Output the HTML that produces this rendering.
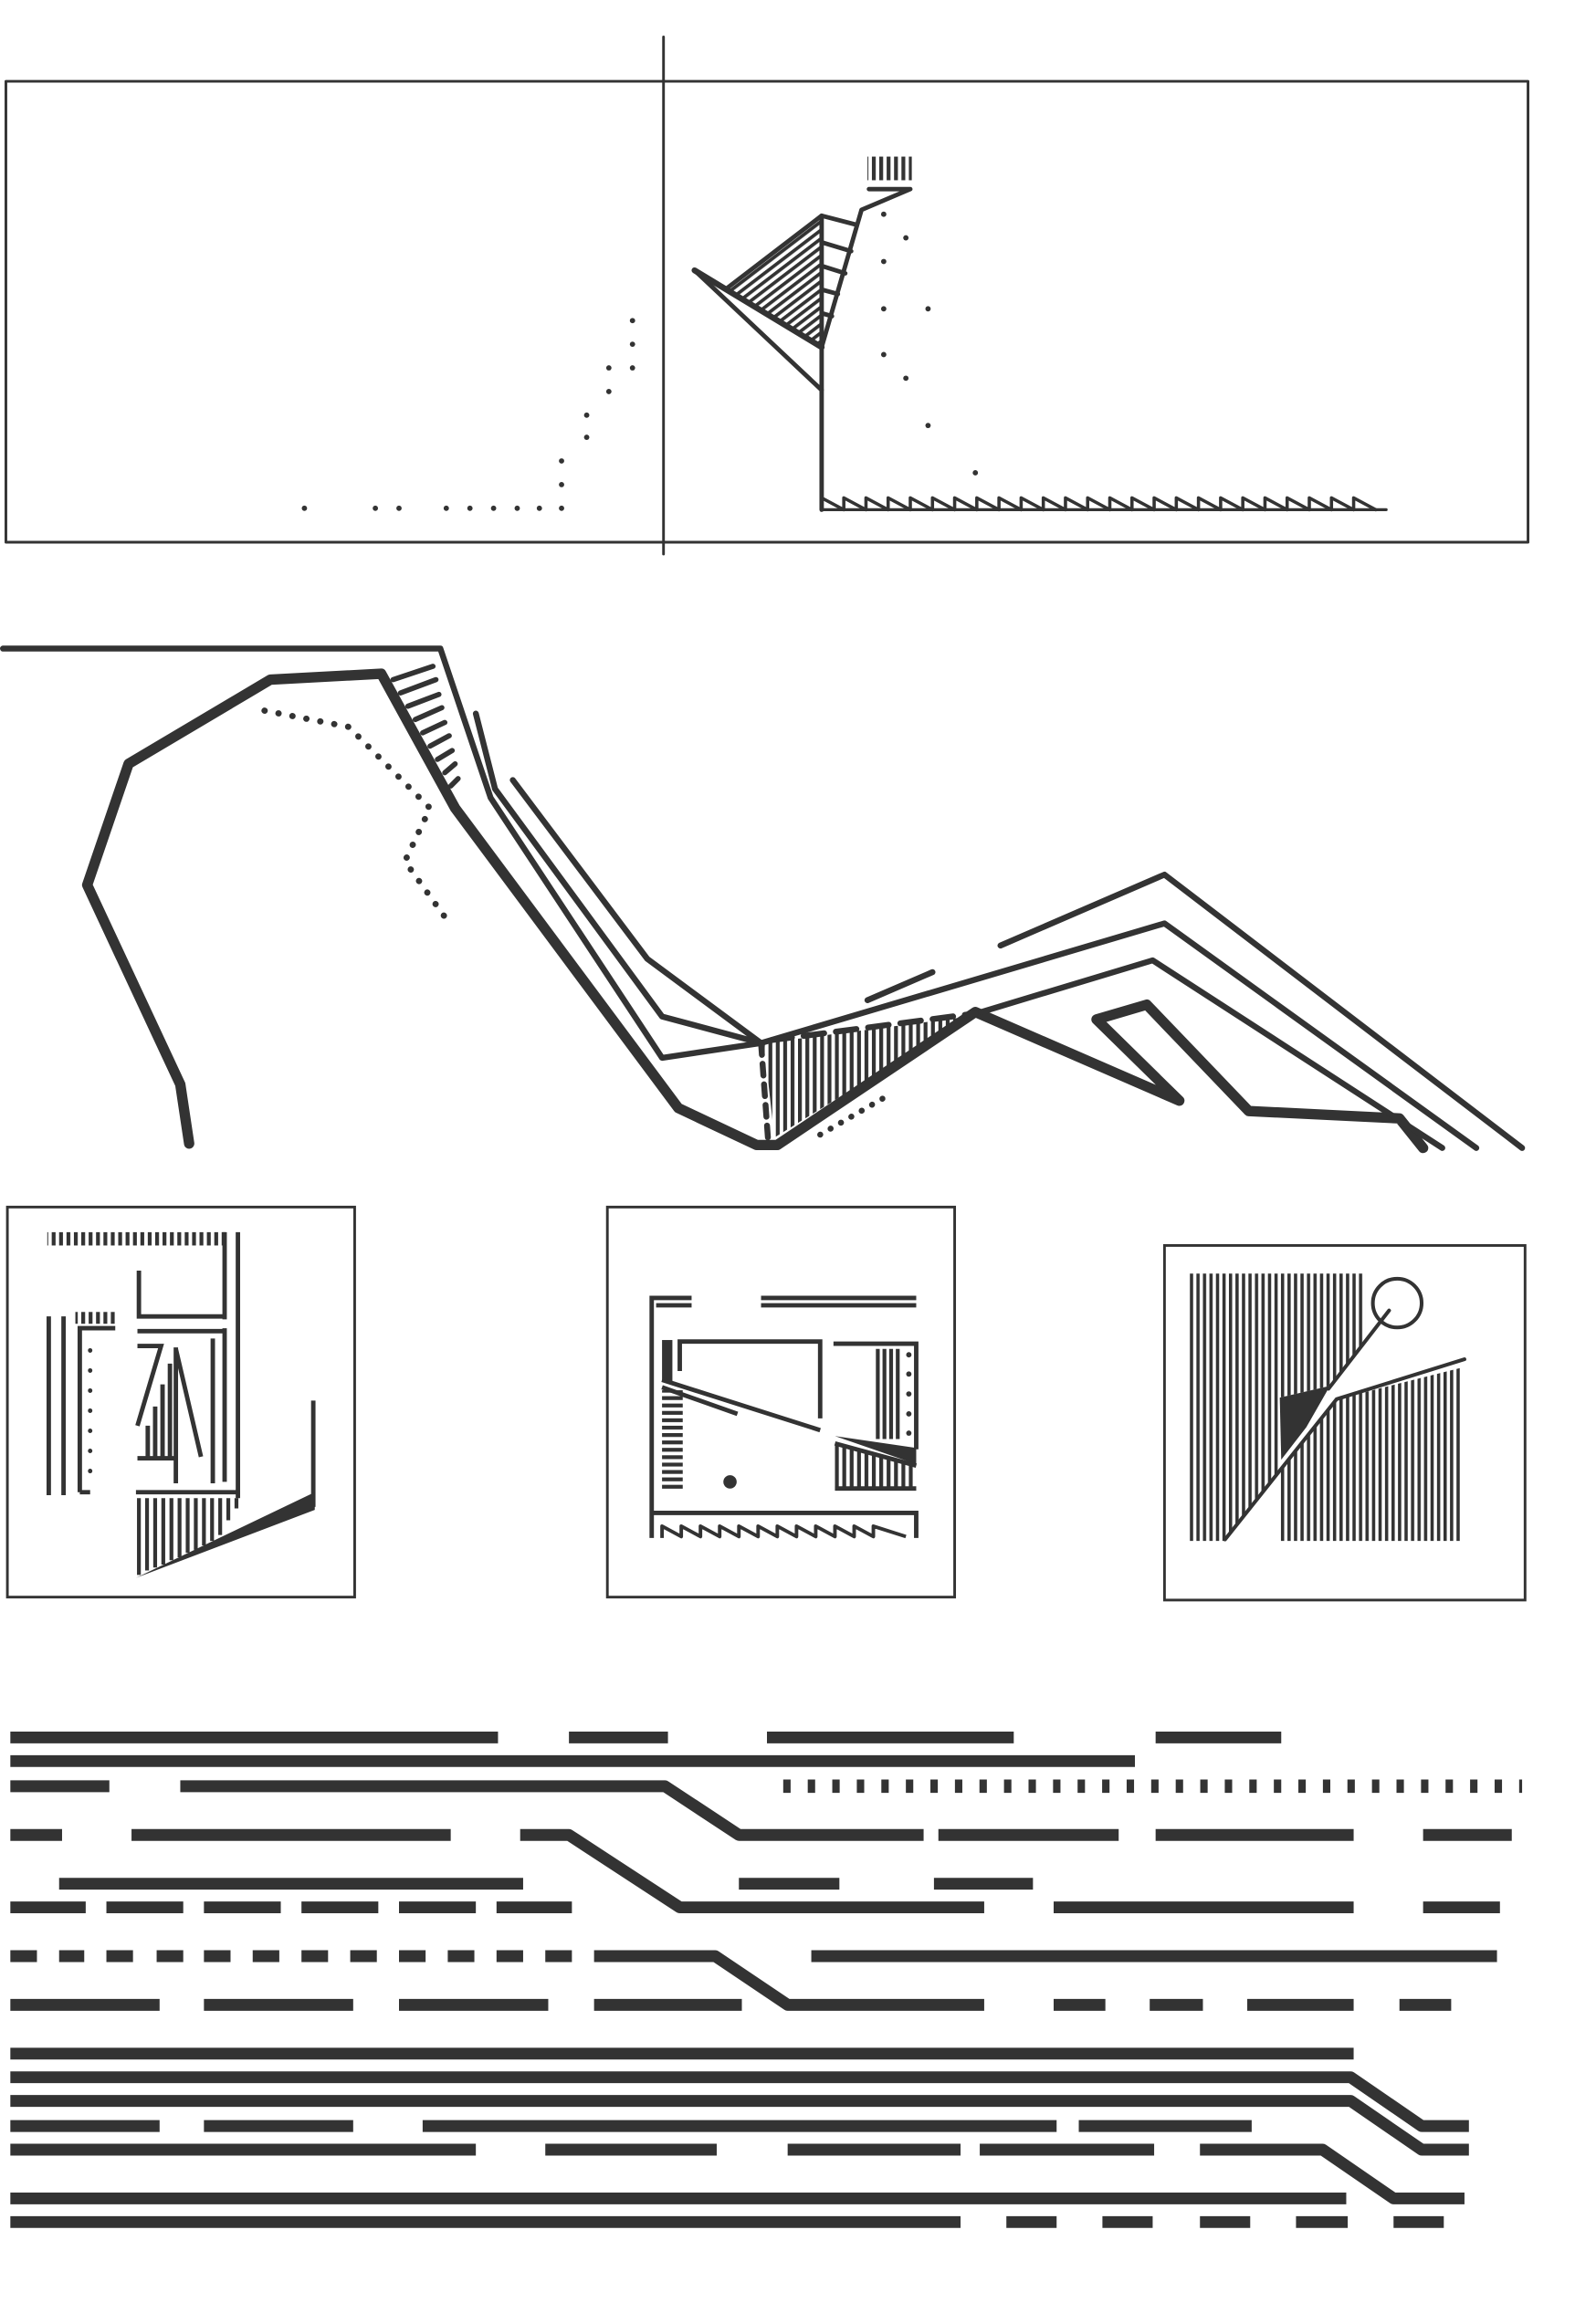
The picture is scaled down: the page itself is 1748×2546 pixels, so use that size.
<!DOCTYPE html>
<html><head><meta charset="utf-8"><style>html,body{margin:0;padding:0;background:#fff}svg{display:block}</style></head>
<body>
<svg width="1748" height="2546" viewBox="0 0 1080 1573" preserveAspectRatio="none" xmlns="http://www.w3.org/2000/svg">
<defs>
<pattern id="vh" width="4.4" height="5" patternUnits="userSpaceOnUse"><rect x="0" y="0" width="2.2" height="5" fill="#333"/></pattern>
<pattern id="vh2" width="5" height="5" patternUnits="userSpaceOnUse"><rect x="0" y="0" width="2.6" height="5" fill="#333"/></pattern>
<pattern id="hh" width="5" height="5" patternUnits="userSpaceOnUse"><rect x="0" y="0" width="5" height="2.6" fill="#333"/></pattern>
<pattern id="dh" width="10" height="4.6" patternUnits="userSpaceOnUse" patternTransform="rotate(-37.4)"><rect x="0" y="0" width="10" height="2.3" fill="#333"/></pattern>
</defs>
<!-- top panel -->
<g fill="none" stroke="#333" stroke-linecap="round" stroke-linejoin="round">
<rect x="4" y="55" width="1030" height="312" stroke-width="1.8"/>
<line x1="449" y1="25" x2="449" y2="375" stroke-width="1.8"/>
</g>
<polygon points="492,195 556,146 556,235" fill="url(#dh)"/>
<g fill="none" stroke="#333" stroke-linecap="round" stroke-linejoin="round" stroke-width="3">
<path d="M556 146 L556 345"/>
<path d="M470 183 L556 264"/>
<path d="M470 183 L556 235" stroke-width="4"/>
<path d="M492 195 L556 146 L579 152"/>
<path d="M556 235 L583 142 L616 128 L588 128"/>
<path d="M556 164 L576 170 M556 180 L572 185 M556 196 L567 199 M556 212 L563 214"/>
<path d="M556 345 L938 345" stroke-width="2"/>
<path d="M556 345 l0 -8 l15 8 l0 -8 l15 8 l0 -8 l15 8 l0 -8 l15 8 l0 -8 l15 8 l0 -8 l15 8 l0 -8 l15 8 l0 -8 l15 8 l0 -8 l15 8 l0 -8 l15 8 l0 -8 l15 8 l0 -8 l15 8 l0 -8 l15 8 l0 -8 l15 8 l0 -8 l15 8 l0 -8 l15 8 l0 -8 l15 8 l0 -8 l15 8 l0 -8 l15 8 l0 -8 l15 8 l0 -8 l15 8 l0 -8 l15 8 l0 -8 l15 8 l0 -8 l15 8 l0 -8 l15 8" stroke-width="2.2"/>
</g>
<rect x="587" y="106" width="30" height="16" fill="url(#vh2)"/>
<g fill="#333">
<circle cx="206" cy="344" r="1.8"/><circle cx="254" cy="344" r="1.8"/><circle cx="270" cy="344" r="1.8"/><circle cx="302" cy="344" r="1.8"/><circle cx="318" cy="344" r="1.8"/><circle cx="334" cy="344" r="1.8"/><circle cx="350" cy="344" r="1.8"/><circle cx="365" cy="344" r="1.8"/><circle cx="380" cy="344" r="1.8"/>
<circle cx="380" cy="328" r="1.8"/><circle cx="380" cy="312" r="1.8"/><circle cx="397" cy="296" r="1.8"/><circle cx="397" cy="281" r="1.8"/><circle cx="412" cy="265" r="1.8"/><circle cx="412" cy="249" r="1.8"/><circle cx="428" cy="249" r="1.8"/><circle cx="428" cy="233" r="1.8"/><circle cx="428" cy="217" r="1.8"/>
<circle cx="598" cy="145" r="1.8"/><circle cx="613" cy="161" r="1.8"/><circle cx="598" cy="177" r="1.8"/><circle cx="628" cy="209" r="1.8"/><circle cx="598" cy="209" r="1.8"/><circle cx="598" cy="240" r="1.8"/><circle cx="613" cy="256" r="1.8"/><circle cx="628" cy="288" r="1.8"/><circle cx="660" cy="320" r="1.8"/>
</g>
<!-- middle section -->
<polygon points="517,706 656,688 524,770" fill="url(#vh2)"/>
<g fill="none" stroke="#333" stroke-linecap="round" stroke-linejoin="round">
<path d="M2 439 L298 439 L332 540 L448 716 L515 706" stroke-width="4"/>
<path d="M128 774 L122 734 L59 599 L87 517 L183 460 L258 456 L308 547 L459 750 L512 775 L526 775 L660 685 L798 745 L742 690 L776 680 L845 752 L947 757 L963 777" stroke-width="7"/>
<path d="M322 483 L335 534 L448 688 L515 706" stroke-width="4"/>
<path d="M347 528 L438 649 L515 706" stroke-width="4"/>
<path d="M515 706 L788 625 L999 777" stroke-width="4"/>
<path d="M664 685 L780 650 L976 777" stroke-width="4"/>
<path d="M677 640 L788 592 L1030 777" stroke-width="4"/>
<path d="M587 677 L631 658" stroke-width="4"/>
<path d="M515 706 L520 775" stroke-width="4" stroke-dasharray="8 6"/>
<path d="M522 704 L660 686" stroke-width="4" stroke-dasharray="14 8"/>
<path d="M179 481 L236 492 L291 547 L274 583 L302 622" stroke-width="4.2" stroke-dasharray="0.1 9.5"/>
<path d="M555 768 L600 742" stroke-width="4" stroke-dasharray="0.1 8"/>
<path d="M266 460 L293 451 M271 469 L295 460 M276 478 L297 470 M281 487 L299 479 M286 496 L301 489 M291 505 L304 498 M296 514 L306 508 M301 523 L308 517 M305 532 L310 527" stroke-width="3.5"/>
</g>
<!-- three boxes -->
<g fill="none" stroke="#333" stroke-width="1.8">
<rect x="5" y="817" width="235" height="264"/>
<rect x="411" y="817" width="235" height="264"/>
<rect x="788" y="843" width="244" height="240"/>
</g>
<!-- box1 -->
<rect x="32" y="834" width="121" height="9" fill="url(#vh2)"/>
<rect x="51" y="888" width="27" height="8" fill="url(#vh2)"/>
<g fill="none" stroke="#333" stroke-linecap="butt" stroke-width="3">
<path d="M161 834 L161 1014 M152 834 L152 893 M152 899 L152 1003 M144 906 L144 1004 M33 891 L33 1012 M43 891 L43 1012 M54 1010 L54 899 L78 899 M54 1010 L61 1010 M94 860 L94 891 L153 891 M93 901 L153 901 M92 1010 L162 1010 M93 911 L109 911 L93 965 M119 912 L119 1004 M119 913 L136 986 M93 987 L119 987 M100 986 L100 965 M105 986 L105 952 M110 986 L110 937 M115 986 L115 923 M212 948 L212 1020"/>
<path d="M94 1014V1066 M99.5 1014V1063 M105 1014V1061 M110.5 1014V1059 M116 1014V1056 M121.5 1014V1054 M127 1014V1051 M132.5 1014V1049 M138 1014V1046 M143.5 1014V1043 M149 1014V1039 M154.5 1014V1029 M160 1014V1021" stroke-width="2.6"/>
<path d="M61 914 L61 996" stroke-dasharray="0.1 13.5" stroke-linecap="round" stroke-width="3"/>
</g>
<polygon points="92,1068 213,1010 213,1022" fill="#333"/>
<!-- box2 -->
<rect x="448" y="907" width="7" height="28" fill="#333"/>
<rect x="448" y="941" width="14" height="67" fill="url(#hh)"/>
<polygon points="565,978 620,992 620,1007 565,1007" fill="url(#vh2)"/>
<polygon points="565,972 620,980 620,991" fill="#333"/>
<g fill="none" stroke="#333" stroke-width="3" stroke-linecap="butt">
<path d="M441 877 L441 1041 M441 878.5 L468 878.5 M444 883.5 L468 883.5 M515 878.5 L620 878.5 M515 883.5 L620 883.5"/>
<path d="M460 928 L460 908 L555 908 L555 960 M564 909.5 L620 909.5 L620 981"/>
<path d="M594 913V974 M598.5 913V974 M603 913V974 M607.5 913V974" stroke-width="2.6"/>
<path d="M448 934 L555 968 M448 939 L499 957 M565 977 L620 992 M565 1007.5 L620 1007.5"/>
<path d="M441 1024 L620 1024 L620 1041"/>
<path d="M448 1041 L448 1033 L461 1040 L461 1033 L474 1040 L474 1033 L487 1040 L487 1033 L500 1040 L500 1033 L513 1040 L513 1033 L526 1040 L526 1033 L539 1040 L539 1033 L552 1040 L552 1033 L565 1040 L565 1033 L578 1040 L578 1033 L591 1040 L591 1033 L613 1040" stroke-width="2.4" stroke-linejoin="round"/>
</g>
<g fill="#333"><circle cx="494" cy="1003" r="4.5"/><circle cx="615" cy="917" r="1.8"/><circle cx="615" cy="930" r="1.8"/><circle cx="615" cy="943.5" r="1.8"/><circle cx="615" cy="957" r="1.8"/><circle cx="615" cy="970" r="1.8"/></g>
<!-- box3 -->
<polygon points="805,862 924,862 924,908 900,938 866,946 866,995 829,1043 805,1043" fill="url(#vh)"/>
<polygon points="866,1043 866,997 905,947 988,926 988,1043" fill="url(#vh)"/>
<polygon points="866,946 900,938 884,966 867,988" fill="#333"/>
<g fill="none" stroke="#333" stroke-width="2.5" stroke-linecap="round">
<circle cx="945.5" cy="882" r="16.5"/>
<path d="M829 1042 L904.5 947 L991 920 M940 887 L899 940"/>
</g>
<!-- bottom lines -->
<g fill="none" stroke="#333" stroke-width="8" stroke-linecap="butt" stroke-linejoin="round">
<path d="M7 1176H337 M385 1176H452 M519 1176H686 M782 1176H867"/>
<path d="M7 1192H768"/>
<path d="M7 1209H74 M122 1209H450 L500 1242 H625"/>
<path d="M530 1209H1030" stroke-width="9" stroke-dasharray="5 11.6"/>
<path d="M7 1242H42 M89 1242H305 M352 1242H385 L460 1291 H666 M635 1242H757 M782 1242H916 M963 1242H1023"/>
<path d="M40 1275H354 M500 1275H568 M632 1275H699"/>
<path d="M7 1291H58 M72 1291H124 M138 1291H190 M204 1291H256 M270 1291H322 M336 1291H387 M713 1291H916 M963 1291H1015"/>
<path d="M7 1324H25 M40 1324H57 M72 1324H90 M106 1324H124 M138 1324H156 M171 1324H189 M204 1324H222 M237 1324H255 M270 1324H288 M303 1324H321 M336 1324H354 M369 1324H387 M402 1324H484 L533 1357 H666 M549 1324H1013"/>
<path d="M7 1357H108 M138 1357H239 M270 1357H371 M402 1357H502 M713 1357H748 M778 1357H814 M844 1357H916 M947 1357H982"/>
<path d="M7 1390H916"/>
<path d="M7 1406H914 L962 1439 H994"/>
<path d="M7 1422H914 L962 1455 H994"/>
<path d="M7 1439H108 M138 1439H239 M286 1439H715 M730 1439H847"/>
<path d="M7 1455H322 M369 1455H485 M533 1455H650 M663 1455H781 M812 1455H895 L943 1488 H991"/>
<path d="M7 1488H911"/>
<path d="M7 1504H650 M681 1504H715 M746 1504H780 M812 1504H846 M877 1504H912 M943 1504H977"/>
</g>
</svg>
</body></html>
